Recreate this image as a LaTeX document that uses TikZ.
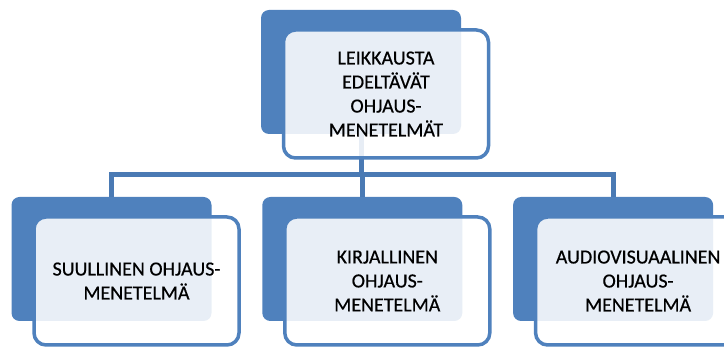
\documentclass[tikz,border=0pt]{standalone}
\usepackage{fontspec}
\setmainfont{Carlito}
\newfontfamily\boxfont{Carlito}[FakeBold=0.5]
\usepackage{xcolor}
\usepackage{tikz}
\usetikzlibrary{positioning,backgrounds}
\definecolor{office}{HTML}{4F81BD}
\definecolor{officeline}{HTML}{4A7AB4}

\begin{document}
\begin{tikzpicture}[
  x=0.5pt, y=-0.5pt,
  font=\boxfont\fontsize{10}{12}\selectfont,
  node distance=25pt,
  back/.style={fill=office, rounded corners=4pt, minimum width=100pt, minimum height=62pt, inner sep=0pt},
  front/.style={draw=office, line width=1.75pt, fill=white, fill opacity=0.87, text opacity=1,
                rounded corners=6pt, minimum width=102.5pt, minimum height=64pt, align=center, inner sep=2pt},
  link/.style={draw=officeline, line width=2.5pt}
]
  \clip (0,0) rectangle (724,347);

  % blue boxes behind
  \node[back] (bk0) at (361,72) {};
  \node[back] (bk1) at (111.5,259) {};
  \node[back, right=of bk1] (bk2) {};
  \node[back, right=of bk2] (bk3) {};

  % tree lines (behind the light boxes)
  \coordinate[below=20pt of bk0] (split);
  \begin{scope}[on background layer]
    \draw[link] (bk0.south) -- (split);
    \draw[link] (split) -| (bk1.north);
    \draw[link] (split) -| (bk2.north);
    \draw[link] (split) -| (bk3.north);
  \end{scope}

  % light boxes in front
  \node[front] (top) at ([xshift=12.5pt,yshift=-11pt]bk0.center) {LEIKKAUSTA\\EDELTÄVÄT\\OHJAUS-\\MENETELMÄT};
  \node[front] (oral) at ([xshift=12.5pt,yshift=-11pt]bk1.center) {SUULLINEN OHJAUS-\\MENETELMÄ};
  \node[front] (written) at ([xshift=12.5pt,yshift=-11pt]bk2.center) {KIRJALLINEN\\OHJAUS-\\MENETELMÄ};
  \node[front] (av) at ([xshift=12.5pt,yshift=-11pt]bk3.center) {AUDIOVISUAALINEN\\OHJAUS-\\MENETELMÄ};
\end{tikzpicture}
\end{document}
